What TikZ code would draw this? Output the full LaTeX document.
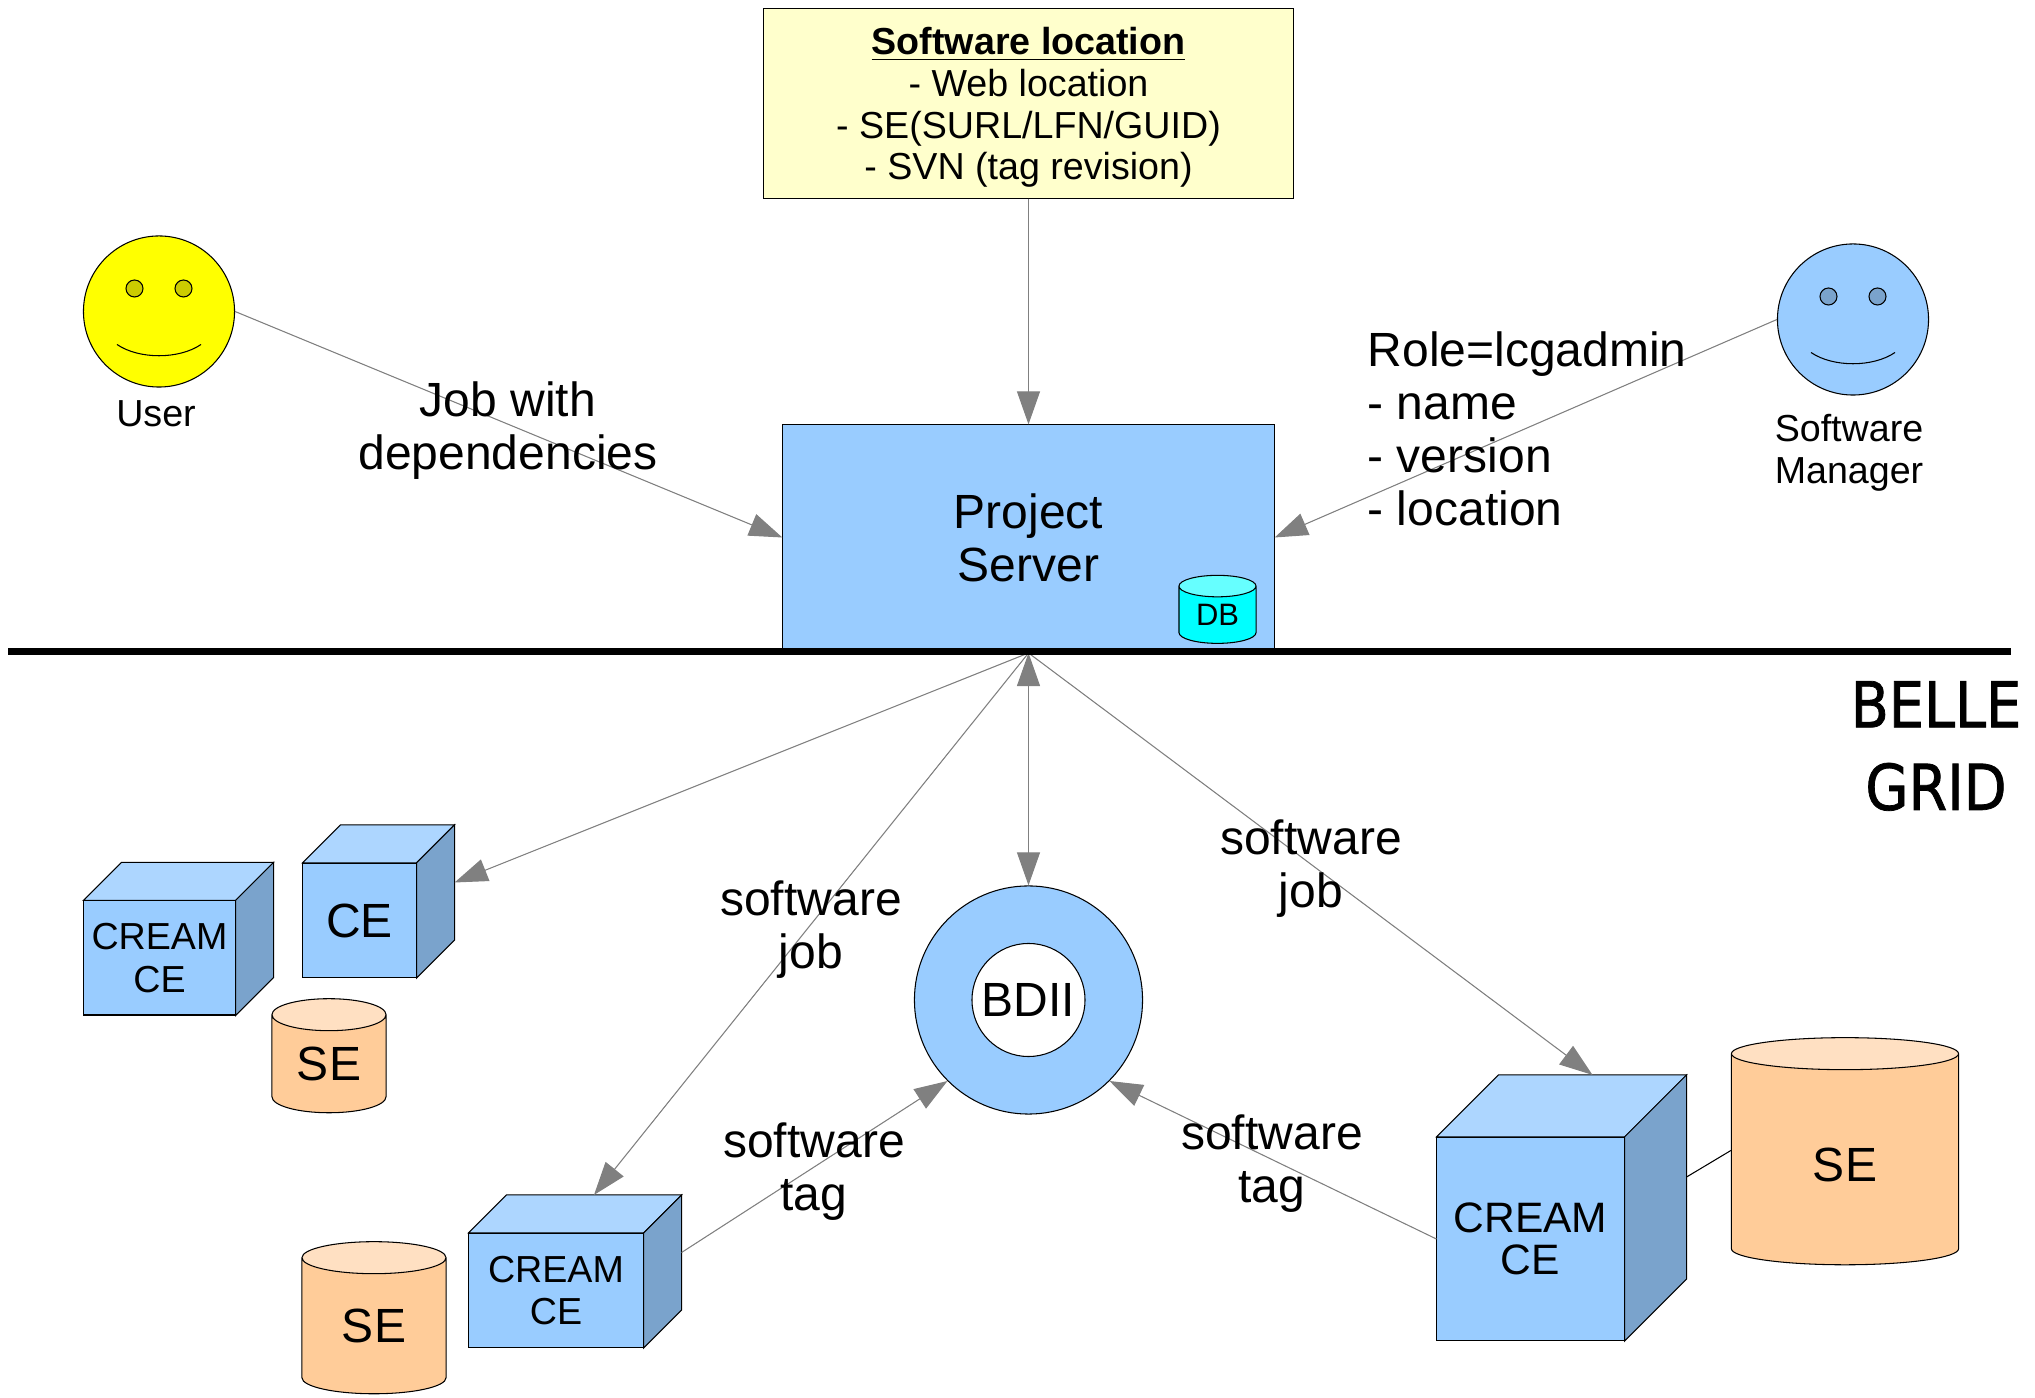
\documentclass[tikz,border=0pt]{standalone}
\usepackage{fontspec}
\setmainfont{Liberation Sans}
\newfontfamily\gridfont[FakeStretch=0.88,FakeBold=1.2]{DejaVu Sans}
\usepackage{xcolor}
\usetikzlibrary{arrows.meta,shapes.geometric}

\definecolor{faceblue}{HTML}{99CCFF}
\definecolor{topblue}{HTML}{ADD6FF}
\definecolor{sideblue}{HTML}{7AA3CC}
\definecolor{bodyorange}{HTML}{FFCC99}
\definecolor{toporange}{HTML}{FFE0C2}
\definecolor{eyeyellow}{HTML}{CCCC00}
\definecolor{faceyellow}{HTML}{FFFF00}
\definecolor{dbcyan}{HTML}{00FFFF}
\definecolor{dbtop}{HTML}{66FFFF}
\definecolor{pale}{HTML}{FFFFCC}
\definecolor{arrowgray}{HTML}{808080}

% big and small labels, sizes in pt
\newcommand{\biglbl}{\fontsize{13.65}{15.1}\selectfont}
\newcommand{\smalllbl}{\fontsize{10.7}{11.9}\selectfont}

% cube: name, centre x, centre y, width, height (cm), depth, text
\newcommand{\cubebox}[7]{
  \node[cubeface, minimum width=#4cm, minimum height=#5cm] (#1) at (#2,#3) {#7};
  \draw[outline, fill=topblue] (#1.north west) -- ++(#6,-#6) -- ([shift={(#6,-#6)}]#1.north east) -- (#1.north east) -- cycle;
  \draw[outline, fill=sideblue] (#1.north east) -- ++(#6,-#6) -- ([shift={(#6,-#6)}]#1.south east) -- (#1.south east) -- cycle;
  \coordinate (#1-top) at ([shift={(#6,-#6)}]#1.north);
  \coordinate (#1-side) at ([shift={(#6,-#6)}]#1.east);
}

% face: name, x, y, fill, eye colour
\newcommand{\smileface}[5]{
  \node[facecircle, fill=#4] (#1) at (#2,#3) {};
  \draw[outline, fill=#5] (#2-24.5,#3-23) circle (8.5);
  \draw[outline, fill=#5] (#2+24.5,#3-23) circle (8.5);
  \draw[outline] (#2-42,#3+33) .. controls (#2-20,#3+48) and (#2+20,#3+48) .. (#2+42,#3+33);
}

\begin{document}
\begin{tikzpicture}[
    x=0.01cm, y=-0.01cm,
    outline/.style={draw=black, line width=0.3pt},
    cubeface/.style={rectangle, outline, fill=faceblue, inner sep=0pt, align=center},
    drum/.style={cylinder, shape border rotate=90, aspect=0.5, outline, cylinder uses custom fill, cylinder body fill=bodyorange, cylinder end fill=toporange, inner sep=0pt, align=center},
    facecircle/.style={circle, outline, minimum size=1.51cm, inner sep=0pt},
    arrow/.style={-{Triangle[length=0.33cm,width=0.23cm]}, draw=arrowgray, fill=arrowgray, line width=0.3pt},
    twoway/.style={{Triangle[length=0.33cm,width=0.23cm]}-{Triangle[length=0.33cm,width=0.23cm]}, draw=arrowgray, fill=arrowgray, line width=0.3pt},
    caption/.style={align=center, inner sep=0pt, font=\biglbl}
]
\useasboundingbox (0,0) rectangle (2035,1398);

% Software location
\node[rectangle, outline, fill=pale, minimum width=5.30cm, minimum height=1.89cm, align=center, inner sep=0pt, font=\smalllbl] (location) at (1028.5,103.5) {\rule{0pt}{10pt}\textbf{\underline{Software location}}\\- Web location\\- SE(SURL/LFN/GUID)\\- SVN (tag revision)};

% Project Server
\node[rectangle, outline, fill=faceblue, minimum width=4.91cm, minimum height=2.25cm, align=center, inner sep=0pt, font=\biglbl] (server) at (1028.5,537.5) {Project\\Server};
\node[drum, minimum width=0.77cm, minimum height=0.68cm, cylinder body fill=dbcyan, cylinder end fill=dbtop, font=\fontsize{8.8}{10}\selectfont] (db) at (1217.5,615) {DB};

% Users
\smileface{user}{159}{311.5}{faceyellow}{eyeyellow}
\smileface{manager}{1853}{319.5}{faceblue}{sideblue}
\node[inner sep=0pt, font=\smalllbl] (userlabel) at (156,414) {User};
\node[align=center, inner sep=0pt, font=\smalllbl] (managerlabel) at (1849,453) {Software\\Manager};

% BDII
\node[circle, outline, fill=faceblue, minimum size=2.28cm, inner sep=0pt] (bdii) at (1028.5,1000) {};
\node[circle, outline, fill=white, minimum size=1.13cm, inner sep=0pt, font=\biglbl] (bdiicore) at (1028.5,1000) {BDII};

% Grid sites
\cubebox{creamleft}{159.5}{958}{1.51}{1.14}{38}{\smalllbl CREAM\\\smalllbl CE}
\cubebox{celeft}{359.5}{920.5}{1.13}{1.14}{38}{\biglbl CE}
\node[drum, minimum width=1.14cm, minimum height=1.14cm, font=\biglbl] (seleft) at (329,1064) {SE};
\cubebox{creammid}{556}{1290.5}{1.74}{1.14}{38}{\smalllbl CREAM\\\smalllbl CE}
\node[drum, minimum width=1.44cm, minimum height=1.52cm, font=\biglbl] (semid) at (374,1326) {SE};
\cubebox{creambig}{1530.5}{1239}{1.87}{2.03}{62}{\fontsize{12.1}{13}\selectfont CREAM\\\fontsize{12.1}{13}\selectfont CE}
\node[drum, minimum width=2.27cm, minimum height=2.27cm, font=\biglbl] (sebig) at (1845,1159.5) {\rule{0pt}{12.8pt}SE};

% Arrows
\coordinate (hub) at (1028.5,653);
\draw[arrow] (location.south) -- (server.north);
\draw[arrow] (user.east) -- (server.west);
\draw[arrow] (manager.west) -- (server.east);
\draw[arrow] (hub) -- (celeft-side);
\draw[arrow] (hub) -- (creammid-top);
\draw[twoway] (hub) -- (bdii.north);
\draw[arrow] (hub) -- (creambig-top);
\draw[arrow] (creammid-side) -- (bdii.south west);
\draw[arrow] (creambig.west) -- (bdii.south east);
\coordinate (sebig-port) at ([yshift=0.09cm]sebig.west);
\draw[outline] (creambig-side) -- (sebig-port);

% Grid line
\coordinate (lineleft) at (8,651.5);
\coordinate (lineright) at (2011,651.5);
\draw[line width=2pt] (lineleft) -- (lineright);

% Labels
\node[caption] (joblabel) at (508,431) {Job with\\dependencies};
\node[caption, align=left, anchor=west] (rolelabel) at (1367,429) {Role=lcgadmin\\- name\\- version\\- location};
\node[caption] (jobleft) at (811,930) {software\\job};
\node[caption] (tagleft) at (814,1172) {software\\tag};
\node[caption] (jobright) at (1311,869) {software\\job};
\node[caption] (tagright) at (1272,1164) {software\\tag};
\node[align=center, inner sep=0pt, font=\gridfont\fontsize{18}{23.5}\selectfont] (gridlabel) at (1936,746) {BELLE\\GRID};

\end{tikzpicture}
\end{document}
